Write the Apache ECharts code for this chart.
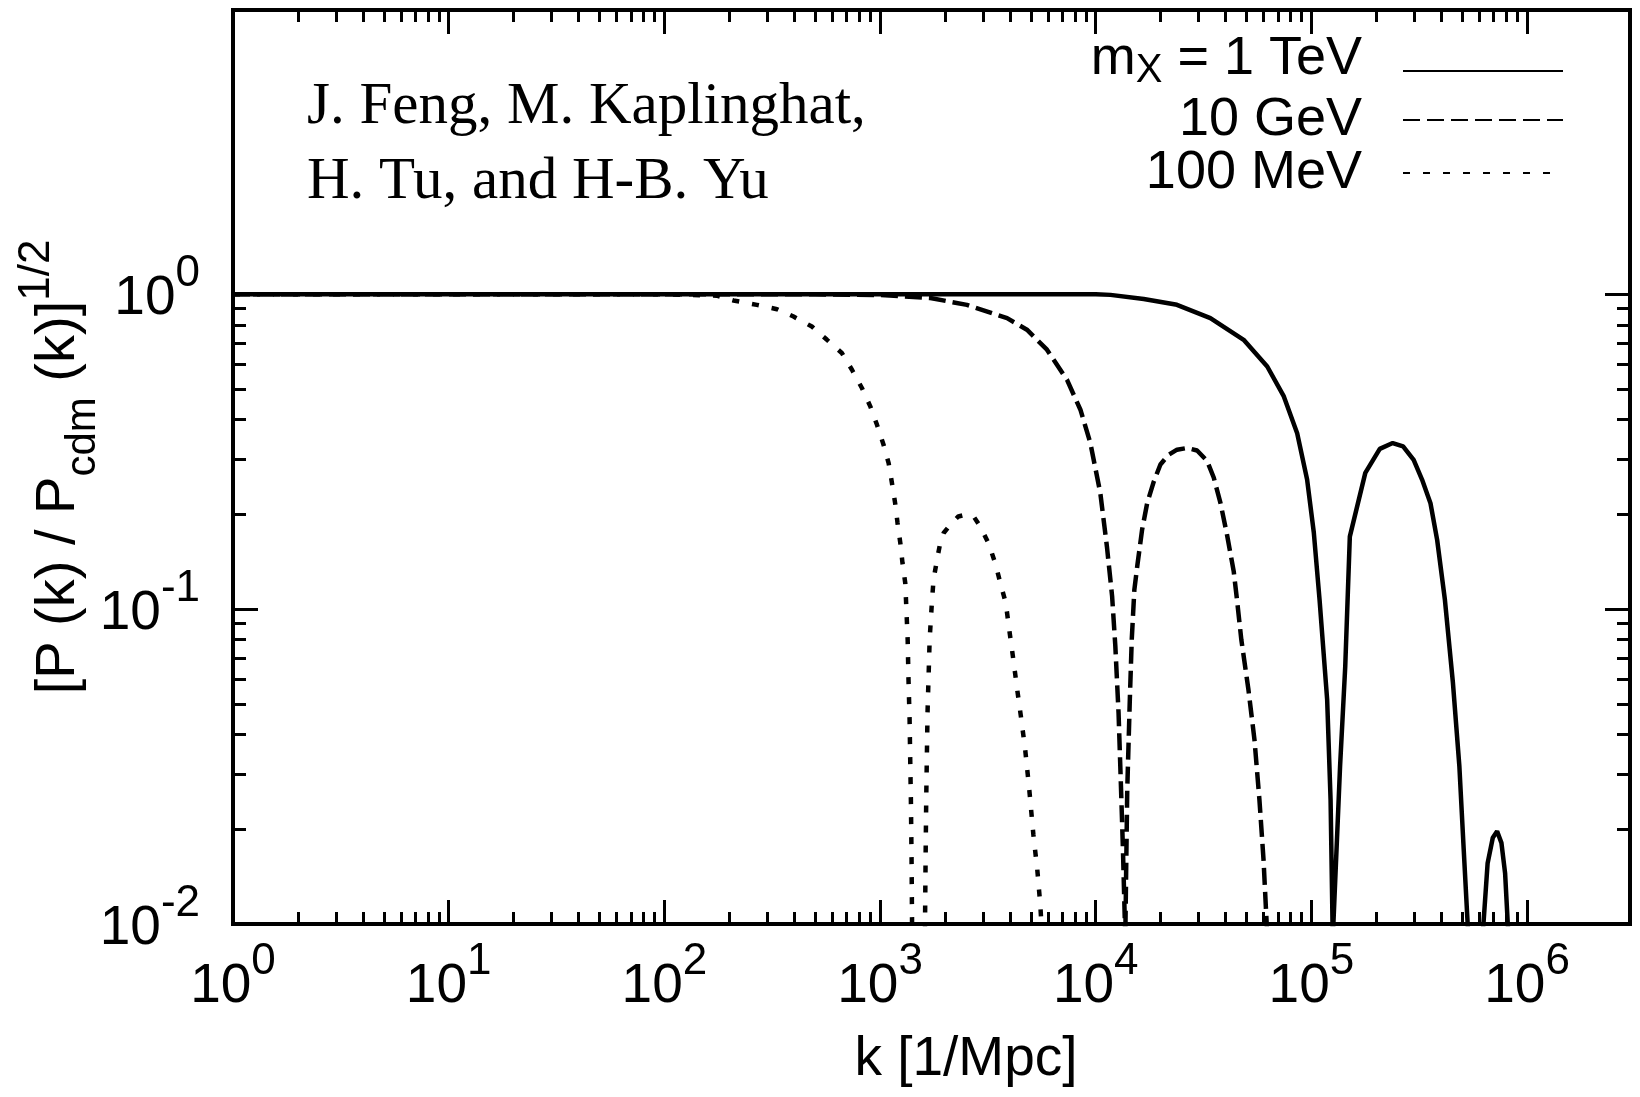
<!DOCTYPE html>
<html>
<head>
<meta charset="utf-8">
<title>P(k) / Pcdm(k)</title>
<script src="https://cdn.jsdelivr.net/npm/echarts@6/dist/echarts.min.js"></script>
<style>
  html, body { margin: 0; padding: 0; background: #fff; }
  #main { width: 1640px; height: 1097px; }
</style>
</head>
<body>
<div id="main"></div>
<script>
// [k (1/Mpc), (P/Pcdm)^(1/2)]; 0.009 marks a zero crossing (below the axis)
var tev = [
  [1, 1], [10, 1], [100, 1], [1000, 1], [1e4, 1],
  [1.17e4, 0.996], [1.67e4, 0.966], [2.38e4, 0.926], [3.40e4, 0.840], [4.85e4, 0.717],
  [6.24e4, 0.590], [7.45e4, 0.474], [8.59e4, 0.362], [9.55e4, 0.258], [1.026e5, 0.175],
  [1.091e5, 0.107], [1.183e5, 0.0516], [1.227e5, 0.0248], [1.256e5, 0.009],
  [1.358e5, 0.0317], [1.435e5, 0.0658], [1.507e5, 0.170], [1.778e5, 0.271], [2.075e5, 0.323],
  [2.382e5, 0.337], [2.661e5, 0.329], [2.979e5, 0.298], [3.258e5, 0.258], [3.565e5, 0.217],
  [3.828e5, 0.166], [4.159e5, 0.107], [4.529e5, 0.0585], [4.853e5, 0.0317], [5.082e5, 0.0173],
  [5.346e5, 0.009],
  [6.209e5, 0.009], [6.561e5, 0.0156], [6.934e5, 0.0188], [7.261e5, 0.0197], [7.603e5, 0.0181],
  [7.907e5, 0.0145], [8.204e5, 0.009]
];
var gev = [
  [1, 1], [10, 1], [100, 1], [500, 1], [1000, 0.995],
  [1710, 0.973], [2529, 0.926], [3882, 0.840], [4797, 0.772], [5943, 0.667],
  [7362, 0.535], [8492, 0.430], [9441, 0.337], [1.050e4, 0.234], [1.127e4, 0.158],
  [1.191e4, 0.110], [1.233e4, 0.0762], [1.276e4, 0.0468], [1.306e4, 0.0288], [1.337e4, 0.0173],
  [1.371e4, 0.009],
  [1.384e4, 0.0149], [1.400e4, 0.0267], [1.439e4, 0.0516], [1.469e4, 0.080], [1.510e4, 0.115],
  [1.560e4, 0.138], [1.641e4, 0.179], [1.734e4, 0.218], [1.858e4, 0.254], [1.995e4, 0.288],
  [2.173e4, 0.309], [2.382e4, 0.321], [2.655e4, 0.325], [2.951e4, 0.319], [3.281e4, 0.296],
  [3.524e4, 0.262], [3.784e4, 0.218], [4.064e4, 0.172], [4.365e4, 0.1315], [4.519e4, 0.107],
  [4.732e4, 0.080], [5.105e4, 0.0555], [5.445e4, 0.0385], [5.741e4, 0.0248], [5.998e4, 0.016],
  [6.252e4, 0.009]
];
var mev = [
  [1, 1], [10, 1], [100, 1], [175, 0.99], [209, 0.956],
  [268.5, 0.926], [333, 0.897], [397, 0.850], [483, 0.790], [567.5, 0.717],
  [665, 0.651], [741, 0.576], [824, 0.504], [902, 0.440], [968, 0.385],
  [1038, 0.333], [1096, 0.291], [1135, 0.252], [1175, 0.217], [1205, 0.188],
  [1242, 0.162], [1271, 0.140], [1309, 0.121], [1321, 0.1046], [1343, 0.080],
  [1355, 0.0597], [1371, 0.0446], [1380, 0.0333], [1390, 0.0248], [1400, 0.016],
  [1409, 0.009],
  [1614, 0.009], [1626, 0.016], [1637, 0.0248], [1660, 0.0468], [1698, 0.080],
  [1742, 0.107], [1770, 0.124], [1837, 0.1436], [1901, 0.162], [1972, 0.1745],
  [2153, 0.188], [2307, 0.197], [2483, 0.1995], [2716, 0.197], [2917, 0.183],
  [3184, 0.162], [3420, 0.140], [3614, 0.121], [3828, 0.1046], [3972, 0.0861],
  [4150, 0.0691], [4325, 0.0555], [4519, 0.0446], [4710, 0.0358], [4920, 0.0267],
  [5140, 0.0192], [5358, 0.0149], [5534, 0.0115], [5649, 0.009]
];

var seriesNames = ['m_X = 1 TeV', '10 GeV', '100 MeV'];
var xMajor = [1, 10, 100, 1e3, 1e4, 1e5, 1e6];
var yMajor = [0.01, 0.1, 1];

// minor ticks at 2..9 of every decade
function minors(fromExp, toExp) {
  var out = [];
  for (var e = fromExp; e < toExp; e++) {
    for (var m = 2; m <= 9; m++) out.push(Number((m * Math.pow(10, e)).toPrecision(3)));
  }
  return out;
}
var xMinor = minors(0, 6);
var yMinor = minors(-2, 0);

var FONT = "'Liberation Sans', Arial, sans-serif";
var SERIF = "'Liberation Serif', 'Times New Roman', serif";

// rich token: text centred in a box of height h, box pinned to the top of the line
function tok(size, h) {
  return { fontSize: size, height: h, lineHeight: h, verticalAlign: 'top', fontFamily: FONT, color: '#000' };
}

function powLabel(v) {
  return '{b|10}{p|' + Math.round(Math.log10(v)) + '}';
}
var powRich = { b: tok(55, 94), p: tok(44, 44) };

function xAx(pos, major) {
  return {
    type: 'log', logBase: 10, min: 1, max: 3e6, position: pos,
    axisLine: { show: false },
    splitLine: { show: false },
    axisTick: {
      show: true, inside: true, length: major ? 24 : 12,
      customValues: major ? xMajor : xMinor,
      lineStyle: { color: '#000', width: 3 }
    },
    axisLabel: major && pos === 'bottom' ? {
      show: true, customValues: xMajor, margin: 16,
      formatter: powLabel, rich: powRich
    } : { show: false }
  };
}
function yAx(pos, major) {
  return {
    type: 'log', logBase: 10, min: 0.01, max: 8, position: pos,
    axisLine: { show: false },
    splitLine: { show: false },
    axisTick: {
      show: true, inside: true, length: major ? 25 : 13,
      customValues: major ? yMajor : yMinor,
      lineStyle: { color: '#000', width: 3 }
    },
    axisLabel: major && pos === 'left' ? {
      show: true, customValues: yMajor, margin: 33, padding: [10, 0, 0, 0],
      formatter: powLabel, rich: powRich
    } : { show: false }
  };
}

var xAxes = [xAx('bottom', true), xAx('bottom', false), xAx('top', true), xAx('top', false)];
xAxes[0].name = 'k [1/Mpc]';
xAxes[0].nameLocation = 'middle';
xAxes[0].nameGap = 106;
xAxes[0].nameMoveOverlap = false;
xAxes[0].nameTextStyle = { fontSize: 55, lineHeight: 60, fontFamily: FONT, color: '#000', padding: [0, 0, 0, 69] };

var yAxes = [yAx('left', true), yAx('left', false), yAx('right', true), yAx('right', false)];
yAxes[0].name = '{b|[P (k) / P}{s|cdm}{b| (k)]}{p|1/2}';
yAxes[0].nameLocation = 'middle';
yAxes[0].nameRotate = 90;
yAxes[0].nameGap = 82;
yAxes[0].nameMoveOverlap = false;
yAxes[0].nameTextStyle = {
  fontFamily: FONT, color: '#000',
  rich: { b: tok(56, 88), s: tok(42, 136), p: tok(44, 44) }
};

var dashes = ['solid', [17, 7], [7, 13]];
var curves = [tev, gev, mev];

var legendTops = [32, 93, 146];
var legends = seriesNames.map(function (name, i) {
  return {
    data: [name], orient: 'vertical', align: 'right',
    right: 76, top: legendTops[i], padding: 0,
    itemWidth: 160, itemHeight: 20, itemGap: 0,
    selectedMode: false,
    itemStyle: { opacity: 0, borderWidth: 0 },
    formatter: i === 0 ? function () { return '{b|m}{s|X}{b| = 1 TeV}'; } : '{name}',
    textStyle: {
      fontSize: 54, lineHeight: 54, fontFamily: FONT, color: '#000', padding: [0, 36, 0, 0],
      rich: { b: tok(54, 54), s: tok(40, 78) }
    }
  };
});

var chart = echarts.init(document.getElementById('main'), null, { renderer: 'canvas' });
chart.setOption({
  animation: false,
  backgroundColor: '#fff',
  textStyle: { fontFamily: FONT, color: '#000' },
  grid: {
    left: 233, right: 10, top: 10, bottom: 173,
    show: true, borderColor: '#000', borderWidth: 4, backgroundColor: 'transparent',
    containLabel: false, outerBoundsMode: 'none'
  },
  xAxis: xAxes,
  yAxis: yAxes,
  legend: legends,
  graphic: [
    { type: 'text', x: 307, y: 107, style: { text: 'J. Feng, M. Kaplinghat,', font: '59px ' + SERIF, fill: '#000', verticalAlign: 'middle' } },
    { type: 'text', x: 307, y: 182, style: { text: 'H. Tu, and H-B. Yu', font: '59px ' + SERIF, fill: '#000', verticalAlign: 'middle' } }
  ],
  series: curves.map(function (d, i) {
    return {
      name: seriesNames[i], type: 'line', data: d,
      xAxisIndex: 0, yAxisIndex: 0,
      symbol: 'none', showSymbol: false, smooth: false, clip: true,
      color: '#000',
      lineStyle: { color: '#000', width: 4.5, type: dashes[i] },
      emphasis: { disabled: true }
    };
  })
});
</script>
</body>
</html>
